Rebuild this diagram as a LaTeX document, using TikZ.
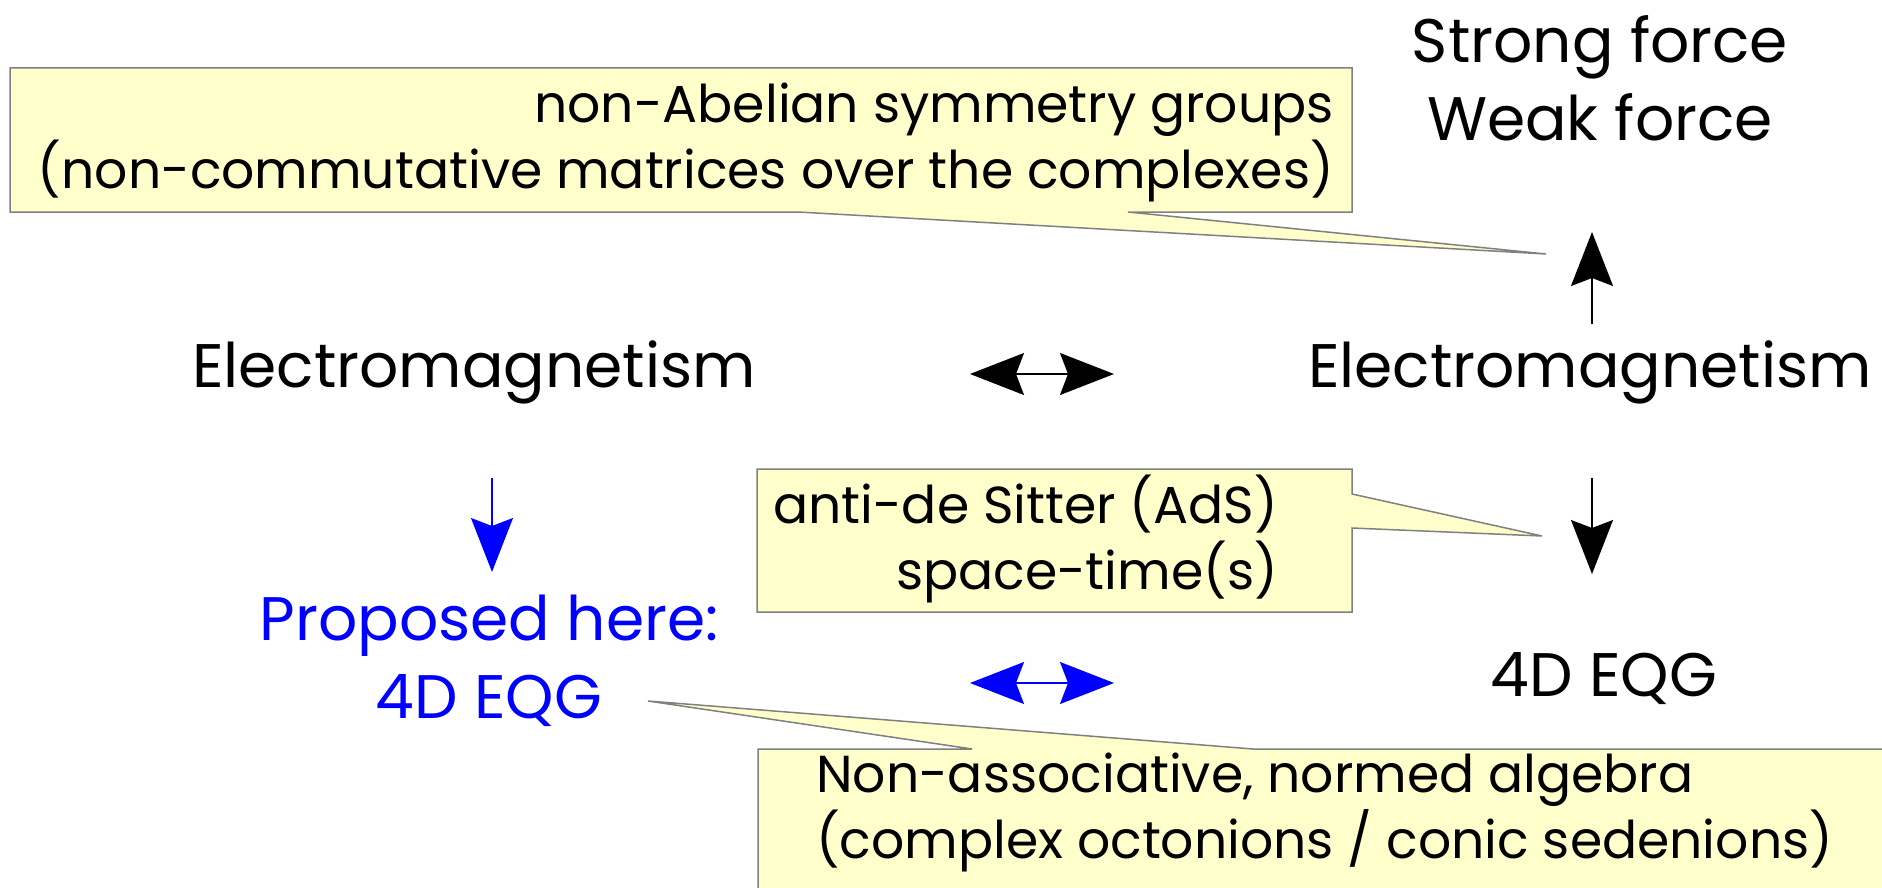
\documentclass[tikz,border=0pt]{standalone}
\usepackage{fontspec}
\setmainfont{Poppins}
\usetikzlibrary{arrows.meta}
\definecolor{calloutfill}{HTML}{FFFFCC}
\definecolor{calloutdraw}{HTML}{808080}
\tikzset{
  bigtext/.style={font=\fontsize{61.5}{78}\selectfont, inner sep=0pt, align=center},
  notetext/.style={font=\fontsize{52}{66}\selectfont, inner sep=0pt},
  callout/.style={fill=calloutfill, draw=calloutdraw, line width=1.5pt, line join=miter},
  arr/.style={line width=1.5pt, -{Stealth[length=54pt,width=42pt,inset=8pt]}},
  darr/.style={line width=1.5pt, {Stealth[length=54pt,width=42pt,inset=8pt]}-{Stealth[length=54pt,width=42pt,inset=8pt]}},
}
\begin{document}
\begin{tikzpicture}[x=1pt,y=-1pt]
\useasboundingbox (0,0) rectangle (1882,888);
\clip (0,0) rectangle (1882,888);
% callouts
\draw[callout] (10,68) -- (1352,68) -- (1352,212) -- (1128,212) -- (1546,254) -- (798,212) -- (10,212) -- cycle;
\draw[callout] (757,469) -- (1352,469) -- (1352,494) -- (1542,536) -- (1352,528) -- (1352,612) -- (757,612) -- cycle;
\draw[callout] (758,749) -- (972,749) -- (648,701) -- (1253,749) -- (1900,749) -- (1900,900) -- (758,900) -- cycle;
% callout texts
\node[notetext, align=right, anchor=east] (nab) at (1334,142) {non-Abelian symmetry groups\\(non-commutative matrices over the complexes)};
\node[notetext, align=right, anchor=east] (ads) at (1278,539) {anti-de Sitter (AdS)\\space-time(s)};
\node[notetext, align=left, anchor=west] (nas) at (816,812) {Non-associative, normed algebra\\(complex octonions / conic sedenions)};
% main texts
\node[bigtext] (sw) at (1600,78) {Strong force\\Weak force};
\node[bigtext] (eml) at (474,372) {Electromagnetism};
\node[bigtext] (emr) at (1590,372) {Electromagnetism};
\node[bigtext] (eqr) at (1604,679) {4D EQG};
\node[bigtext, text=blue] (eql) at (489,661) {Proposed here:\\4D EQG};
% arrow end points
\coordinate (u1) at (1592,324); \coordinate (u2) at (1592,232);
\coordinate (h1) at (970,374); \coordinate (h2) at (1114,374);
\coordinate (d1) at (1592,478); \coordinate (d2) at (1592,574);
\coordinate (b1) at (492,478); \coordinate (b2) at (492,572);
\coordinate (g1) at (970,683); \coordinate (g2) at (1114,683);
\draw[arr] (u1) -- (u2);
\draw[darr] (h1) -- (h2);
\draw[arr] (d1) -- (d2);
\draw[arr, blue] (b1) -- (b2);
\draw[darr, blue] (g1) -- (g2);
\end{tikzpicture}
\end{document}
